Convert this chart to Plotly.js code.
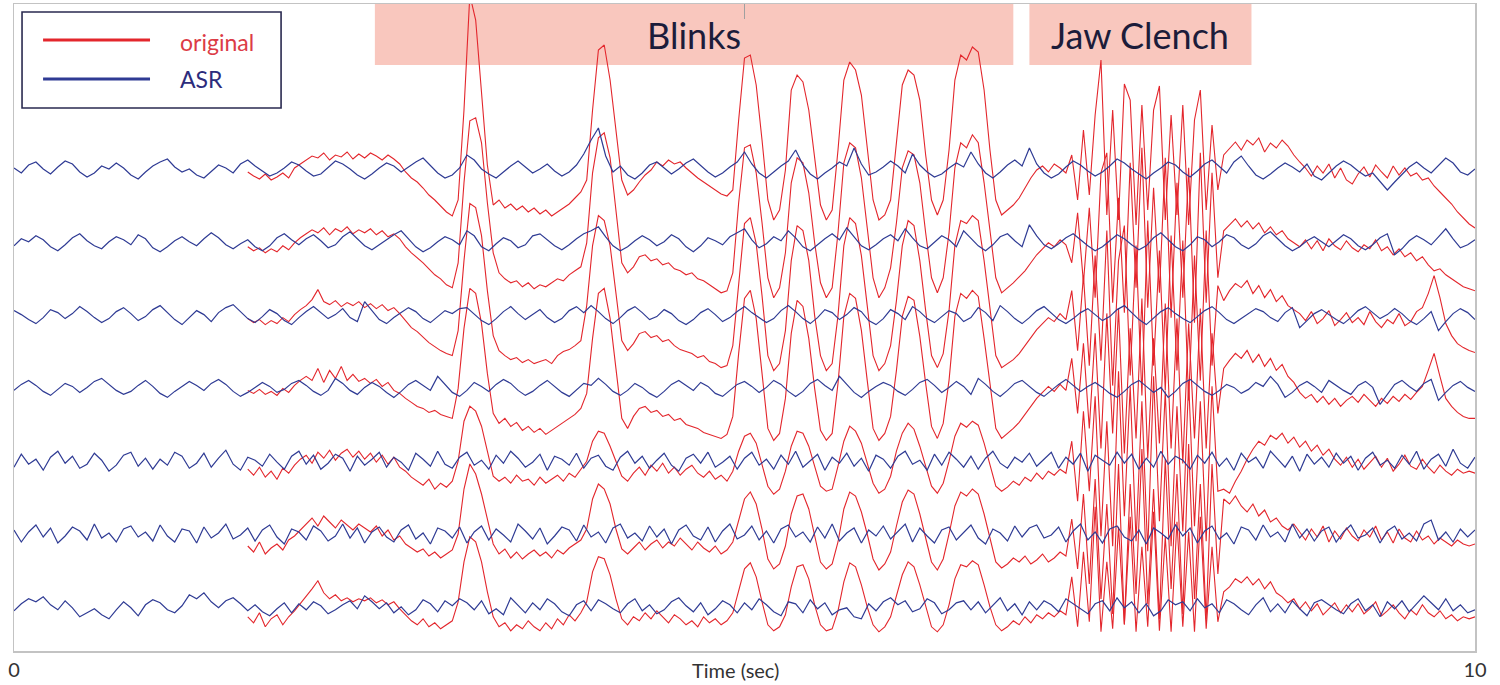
<!DOCTYPE html>
<html><head><meta charset="utf-8">
<script src="https://cdn.plot.ly/plotly-3.0.1.min.js"></script>
<style>html,body{margin:0;padding:0;background:#fff;} #chart{width:1500px;height:685px;}</style>
</head><body><div id="chart"></div>
<script>
// ---------- DATA ----------
// Sampling of the cleaned (ASR) traces and of the original traces (seconds)
const asrStart = 0, asrStep = 0.05;
const origStart = 1.6, origStep = 0.04;

// ASR (cleaned) traces, one per channel, values in µV relative to channel baseline
const asr_ch1 = [2,-3,5,8,1,-4,3,9,6,-2,-7,-3,4,1,7,2,-5,-9,-2,4,
8,11,3,-2,1,-5,-8,-1,5,2,-3,6,10,4,-1,-6,-3,2,8,5,
-1,-6,-4,3,9,6,1,-5,-9,-4,2,7,4,-2,3,8,12,5,-3,-8,
-5,2,15,10,1,-4,-8,-2,4,9,3,-3,1,6,-1,-6,-2,5,16,30,
42,14,-2,4,-5,-9,-3,5,8,2,-4,1,7,11,4,-2,-7,-3,3,8,
18,6,-3,-8,-2,4,9,20,5,-4,-9,-3,2,8,4,22,6,-5,-2,3,
9,4,-3,16,5,-2,-7,-4,2,7,3,18,6,-3,-8,-2,5,10,4,22,
6,-3,-8,-4,3,9,5,-1,-6,-2,4,11,7,1,-4,-9,-3,2,8,5,
-2,-7,-1,6,10,3,-3,8,14,4,-5,-9,-4,2,7,3,-2,6,-6,-10,
-3,4,9,5,-1,-6,-3,-12,-20,-12,-4,3,8,2,-3,5,12,7,-2,-5,
1];
const asr_ch2 = [-3,4,1,7,3,-4,-8,-2,5,9,2,-3,-6,1,6,3,-2,8,4,-5,
-9,-4,2,6,1,-3,4,10,5,-2,-6,-1,3,-4,-8,-3,5,9,3,-2,
4,8,2,-5,-2,6,11,4,-3,-7,-2,3,8,12,4,-4,-9,-5,1,6,
3,-2,12,7,-4,-8,-1,5,2,-5,-2,7,9,3,-3,-7,-2,4,9,12,
16,6,-3,-8,-4,2,7,3,-3,1,8,4,-4,-9,-3,5,2,-2,6,10,
14,3,-5,-1,6,2,12,5,-4,-8,-2,4,9,3,15,6,-3,-7,-2,4,
8,2,14,5,-3,-6,1,7,3,-4,12,4,-3,-8,-2,6,9,2,-4,18,
7,-2,-6,-1,5,9,3,-3,-8,-4,2,8,4,-2,-7,-3,5,10,3,-4,
-8,-2,6,3,-4,1,8,5,-2,-6,-1,7,11,4,-3,-8,-4,2,6,1,
-4,2,8,4,-3,-7,-2,5,9,-12,-6,2,7,3,-2,6,14,4,-5,-2,
3];
const asr_ch3 = [5,1,-4,-8,-2,6,3,-3,2,9,4,-2,-7,-3,4,8,2,-5,-1,6,
10,3,-4,-9,-2,5,1,-6,3,8,11,4,-3,-7,-1,6,2,-5,-9,-2,
4,9,3,-3,1,7,-2,-6,14,5,-4,-8,-2,3,8,4,-3,-7,-1,5,
2,7,8,1,-5,-9,-3,4,9,2,-4,1,6,-2,-7,-3,5,9,3,10,
4,-3,-8,-2,5,9,3,-4,-1,6,2,-5,-9,-4,3,7,1,-6,-2,4,
9,3,-2,-7,-3,5,10,4,-3,-8,-2,6,3,-4,1,8,4,-5,-9,-3,
6,2,-4,9,4,-3,-7,-1,5,2,-6,-2,8,3,-5,10,4,-3,-8,-2,
5,9,2,-4,-8,-3,3,7,1,-5,-1,6,10,3,-4,-9,-2,4,8,2,
-3,-7,-1,5,9,3,-4,-8,-3,2,7,4,-2,-6,3,8,-12,-5,2,6,
1,-4,-8,-2,5,9,3,-3,1,7,2,-5,-9,-3,4,-15,-6,2,7,3,
-4];
const asr_ch4 = [-2,4,8,3,-3,-7,-1,5,2,-4,1,7,10,4,-2,-6,-3,3,8,2,
-5,-9,-3,2,7,3,-2,5,9,4,-3,-8,-4,1,6,2,-4,-1,5,8,
3,-3,-7,-2,10,5,-2,-6,1,6,2,-4,-9,-3,4,8,3,-2,12,4,
-4,-8,-2,6,2,-3,4,9,5,-2,-7,-3,3,8,2,-4,-8,-1,5,3,
10,4,-3,-7,-2,5,1,-5,-9,-3,4,8,3,-2,6,2,-5,-8,-2,4,
7,2,-4,1,8,4,-3,-8,-3,5,9,3,-2,12,4,-4,-9,-3,2,6,
3,-3,-7,-1,6,9,3,-4,1,7,2,-6,10,4,-3,-8,-2,5,8,2,
-4,-8,-2,4,9,3,-3,2,6,1,-5,-9,-3,4,8,2,-4,1,-9,-3,
5,9,3,-3,-7,-2,4,1,-5,-1,6,2,12,4,-9,-4,3,7,2,-4,
8,3,-2,-6,3,7,1,-16,-6,4,8,2,-3,5,9,-12,-4,3,7,1,
-3];
const asr_ch5 = [-6,7,-3,2,-9,4,10,-2,5,-7,-3,8,1,-10,-4,6,9,-5,3,-8,
2,-4,9,5,-7,-2,8,-6,3,11,-3,-9,4,1,-5,7,-1,-8,5,10,
-3,6,-8,-2,7,3,-10,5,-4,2,9,-6,4,-1,-9,8,2,-5,10,-3,
-7,4,9,-4,1,-8,6,-2,10,3,-6,-1,7,-9,5,2,-4,8,-7,3,
6,-5,-9,4,10,-2,5,-7,1,8,-4,-10,3,7,-2,9,-6,-1,5,-8,
3,9,-4,2,-8,6,-3,10,-6,1,7,-9,4,-2,8,-5,3,-10,6,2,
-7,5,10,-3,1,-9,7,-4,9,2,-6,5,-8,3,10,-2,-7,4,-1,8,
-5,2,9,-7,4,-3,8,-10,6,1,-4,9,-2,7,-8,3,-6,10,-3,5,
1,-8,6,-2,9,-5,3,-9,8,-1,4,-7,10,2,-6,5,-10,7,-3,4,
-6,8,-2,5,-9,3,9,-4,1,-7,6,-3,10,-8,2,7,-5,12,-2,-7,
4];
const asr_ch6 = [4,-8,2,9,-3,6,-9,-2,7,3,-6,10,-4,1,-8,5,8,-3,2,-7,
9,-2,-8,5,3,-9,7,-4,1,10,-5,-1,6,-7,4,9,-3,-10,5,2,
-6,8,3,-7,-2,10,-4,6,-9,2,7,-3,-8,4,9,-5,1,-10,6,3,
-4,7,-9,2,8,-6,5,-1,-8,10,3,-5,6,-10,-2,7,4,-7,9,-3,
2,-9,6,10,-4,1,-7,8,-3,5,-10,4,9,-2,-6,7,-8,3,10,-5,
-1,8,-6,3,-9,5,9,-3,2,-8,7,-4,10,-7,1,6,-9,4,-2,8,
-5,3,10,-8,6,-2,-9,4,7,-6,2,9,-4,-10,5,1,-7,8,-3,6,
9,-4,-1,7,-8,3,10,-6,2,-9,5,8,-3,-7,4,-10,6,1,-5,9,
-2,6,-9,3,8,-5,1,-10,7,4,-6,9,-3,2,-8,10,-4,5,-7,3,
7,-8,2,9,-4,-1,6,-9,3,8,-5,1,-7,10,14,-6,2,-8,5,-3,
4];
const asr_ch7 = [-4,3,8,5,10,2,-3,6,-1,-10,-6,-2,-8,-12,-3,5,-1,-9,2,7,
4,-3,-6,1,12,8,14,5,-1,6,9,3,-4,2,-5,-9,-2,4,-6,3,
-3,5,1,-7,-3,2,6,-2,11,5,-2,4,-6,0,-8,-3,7,3,-5,6,
1,8,4,-3,6,-7,-2,-8,9,2,-6,4,-3,8,3,-5,-9,2,6,-4,
7,3,-2,-6,3,8,-4,2,-7,-3,5,9,1,-5,4,-8,-2,6,2,-6,
4,-3,8,2,-5,-9,5,3,-6,7,-2,4,-8,-3,-1,-10,-12,3,-4,5,
9,2,6,-5,-2,8,4,-7,-3,4,6,-3,5,-6,2,9,-4,3,-8,5,
-3,6,2,-5,8,3,-2,-7,3,6,-4,9,-1,5,-6,3,-9,-4,7,2,
5,-4,8,-1,3,-6,7,3,-3,-8,2,9,-5,3,-6,6,-2,-9,4,7,
2,-3,-7,3,8,-4,2,-10,5,-2,6,-5,3,11,4,-3,8,-4,2,-6,
-3];

// Original (uncleaned) traces, one per channel, from 1.6 s on
const original_ch1 = [-2,-6,-9,-4,-10,-7,-3,-8,2,6,
10,14,12,17,10,15,13,18,11,16,
12,17,14,10,15,11,6,-2,-8,-12,
-18,-25,-30,-36,-42,-46,-30,60,175,150,
80,5,-35,-30,-38,-34,-40,-36,-42,-38,
-44,-40,-46,-42,-38,-34,-28,-22,-10,60,
120,125,90,40,-10,-25,-20,-12,-5,0,
8,4,10,6,8,2,-3,-8,-12,-16,
-20,-24,-26,-20,50,112,115,85,30,-30,
-50,-40,0,80,95,88,60,10,-35,-50,
-40,20,90,108,100,75,20,-30,-50,-45,
-30,30,85,100,95,70,15,-30,-45,-30,
20,90,115,110,123,118,80,20,-30,-45,
-40,-35,-28,-18,-8,0,4,-2,6,2,
-3,15,-30,40,-25,55,110,-45,60,-50,
86,70,-55,65,-40,60,84,-50,55,-45,
65,-55,50,80,-40,45,-20,15,22,28,
20,30,25,32,18,27,22,30,24,15,
8,2,-6,4,-3,6,-8,2,-10,-14,
-4,3,-7,5,-2,-8,4,-5,2,-6,
-3,-10,-8,-16,-22,-28,-34,-42,-48,-54,
-58];
const original_ch2 = [-4,-8,-5,-10,-6,-9,-3,-7,0,5,
9,13,10,15,8,14,11,16,9,13,
10,14,8,12,6,9,4,-4,-10,-15,
-20,-26,-32,-36,-42,-45,-20,60,122,125,
100,40,-10,-30,-36,-40,-38,-44,-40,-46,
-42,-44,-40,-36,-38,-32,-28,-24,0,70,
105,110,85,30,-20,-30,-24,-14,-12,-18,
-16,-22,-20,-26,-28,-32,-30,-36,-38,-42,
-46,-50,-48,-30,40,95,98,70,20,-35,
-55,-45,-10,60,85,80,50,0,-40,-55,
-45,10,80,100,95,65,15,-35,-55,-45,
-25,20,75,92,88,60,10,-35,-50,-35,
10,75,100,95,108,100,60,10,-35,-50,
-45,-40,-34,-28,-20,-12,-6,0,-4,3,
-2,-20,30,-40,35,-55,70,90,-60,45,
-70,80,-45,95,-65,55,-50,85,-75,60,
-55,75,-80,90,-60,70,-35,12,18,24,
16,22,14,20,10,16,8,12,4,0,
-4,3,-6,2,-8,4,-3,-7,2,-5,
-9,-2,-6,3,-8,-4,-12,-6,-14,-10,
-18,-14,-22,-28,-26,-32,-36,-40,-44,-46,
-48];
const original_ch3 = [-3,-7,-4,-9,-5,-8,-2,-6,1,6,
10,16,26,14,11,15,9,13,10,14,
8,12,7,11,5,8,2,-5,-12,-16,
-22,-27,-31,-35,-38,-40,-15,55,112,108,
80,25,-20,-35,-40,-44,-42,-47,-44,-48,
-46,-44,-48,-40,-36,-34,-30,-25,10,70,
100,95,70,20,-25,-35,-28,-18,-16,-22,
-20,-26,-24,-30,-34,-36,-38,-42,-40,-46,
-48,-52,-50,-30,35,92,98,72,20,-40,
-55,-48,-15,55,90,85,55,0,-40,-55,
-48,0,70,98,92,60,10,-40,-55,-48,
-30,15,70,95,90,55,5,-40,-52,-38,
5,70,95,92,100,95,55,5,-40,-52,
-48,-44,-38,-30,-22,-14,-8,-2,-6,2,
-4,25,-35,40,-50,60,-45,85,-70,55,
90,-60,70,-80,95,-50,65,-75,80,-55,
75,-85,60,-65,85,-50,30,15,25,32,
28,35,22,30,18,26,14,20,10,6,
2,-5,4,-8,-3,5,-10,-4,3,-7,
-2,-9,4,-6,-12,-4,-8,2,-10,-6,
4,8,22,40,18,-8,-20,-28,-32,-35,
-37];
const original_ch4 = [-2,-5,-1,-6,-3,-7,0,-4,3,8,
12,8,20,6,18,10,22,8,14,7,
10,5,9,2,6,-2,-5,-10,-14,-18,
-20,-24,-22,-26,-28,-30,0,60,100,95,
65,15,-25,-35,-30,-38,-34,-42,-38,-44,
-40,-46,-42,-38,-34,-30,-26,-20,-5,50,
95,100,70,20,-30,-40,-28,-20,-18,-24,
-22,-28,-26,-32,-30,-36,-38,-40,-44,-46,
-48,-50,-46,-28,35,90,98,70,15,-40,
-52,-45,-10,55,88,82,50,0,-42,-52,
-45,5,72,95,90,58,8,-40,-52,-45,
-28,18,72,92,88,52,5,-38,-50,-35,
8,72,95,90,98,92,50,5,-40,-50,
-45,-40,-34,-26,-18,-10,-4,2,-3,4,
-2,30,-25,45,-40,55,-60,75,-45,80,
-65,60,-50,90,-70,50,-55,85,-60,70,
-75,65,-50,80,-60,55,-25,20,28,35,
30,38,26,34,22,30,18,24,12,6,
-4,-10,-6,-14,-8,-16,-10,-18,-12,-8,
-14,-6,-12,-18,-10,-15,-8,-13,-6,-11,
-4,2,18,35,12,-10,-18,-24,-28,-30,
-30];
const original_ch5 = [-8,-14,-6,-16,-10,-18,-7,-12,-4,2,
6,-2,9,3,11,1,8,12,4,10,
2,8,-1,6,-3,4,-6,-10,-16,-20,
-24,-18,-28,-22,-26,-20,0,40,55,50,
35,10,-15,-20,-16,-22,-14,-20,-18,-24,
-16,-22,-18,-14,-20,-12,-16,-8,0,20,
30,28,15,0,-15,-20,-12,-6,-14,-4,
-10,-2,-12,-6,-14,-8,-4,-12,-16,-10,
-18,-14,-20,-10,10,25,28,18,-5,-25,
-33,-28,-10,15,30,28,15,-5,-25,-30,
-28,-5,20,35,30,18,-2,-22,-32,-28,
-15,10,28,38,32,15,-5,-25,-32,-22,
0,25,38,34,40,36,18,-5,-25,-30,
-26,-20,-24,-16,-20,-12,-18,-10,-14,-8,
-12,20,-40,50,-30,65,-75,40,-85,90,
-55,75,-80,60,-90,85,-60,70,-85,55,
-70,80,-65,60,-80,75,-30,-28,-32,-20,
-10,2,12,20,16,26,22,28,18,24,
14,20,10,16,6,12,2,-4,4,-6,
2,-8,-2,5,-6,3,-10,-3,6,-5,
-8,2,-6,-12,-4,-10,-14,-8,-12,-10,
-12];
const original_ch6 = [-12,-18,-8,-20,-14,-10,-16,-6,-2,4,
10,16,8,18,12,6,14,9,4,10,
6,2,8,-2,4,-6,-2,-10,-14,-18,
-15,-22,-18,-24,-20,-16,0,45,70,60,
40,15,-10,-20,-15,-24,-18,-25,-20,-16,
-22,-18,-24,-16,-20,-14,-10,-6,5,35,
50,45,30,5,-15,-20,-14,-8,-16,-10,
-6,-14,-8,-12,-4,-10,-16,-8,-14,-18,
-12,-20,-16,-8,15,35,42,30,5,-25,
-35,-30,-12,20,38,40,25,0,-28,-35,
-30,-8,25,42,38,22,0,-25,-36,-30,
-18,8,32,44,40,20,-5,-28,-36,-25,
0,28,42,38,45,40,20,-5,-28,-34,
-30,-24,-28,-22,-30,-26,-20,-28,-24,-18,
-22,15,-35,40,-50,55,-65,30,-80,70,
-90,50,-60,85,-70,45,-85,75,-55,60,
-80,90,-65,50,-85,70,-40,35,30,38,
28,22,30,18,24,12,16,8,4,10,
2,-6,5,-3,8,-8,3,-5,6,-2,
-7,4,-3,8,-6,2,-9,5,-4,-8,
3,-6,-2,-10,-4,-8,-12,-6,-10,-12,
-10];
const original_ch7 = [-10,-16,-6,-20,-12,-8,-18,-10,-4,3,
10,18,26,14,8,12,6,9,5,8,
6,9,4,7,2,5,-2,-8,-14,-18,
-12,-20,-16,-22,-18,-14,5,45,70,65,
45,15,-10,-20,-16,-24,-18,-22,-14,-20,
-24,-16,-22,-12,-18,-8,-14,-6,5,35,
50,48,32,8,-12,-18,-10,-14,-6,-12,
-4,-10,-16,-8,-12,-18,-14,-20,-10,-16,
-12,-18,-14,-6,15,38,44,30,5,-18,
-24,-20,-8,20,40,42,28,2,-18,-24,
-22,-4,25,44,40,22,0,-18,-25,-20,
-10,10,32,45,40,22,0,-20,-25,-18,
2,28,42,40,46,42,22,0,-18,-24,
-20,-14,-18,-10,-16,-8,-12,-6,-10,-4,
-8,30,-20,55,-15,100,-25,45,-22,80,
-18,90,-25,60,-20,95,-24,70,-25,85,
-20,75,-25,90,-22,60,-15,15,20,28,
24,30,22,28,18,25,14,10,4,8,
-2,5,-4,3,-8,-2,4,-6,2,-5,
3,-7,-2,5,-9,-4,2,-6,-12,-3,
-8,2,-6,-10,-4,-12,-8,-14,-10,-12,
-10];

// Axis ticks and marked events
const xTickVals = [0, 10];
const xTickText = ['0', '10'];
const topTickVals = [5];
const eventLabels = ['Blinks', 'Jaw Clench'];
const eventStart = [2.47, 6.95];
const eventEnd = [6.84, 8.47];
const seriesNames = ['original', 'ASR'];

// ---------- STYLE / LAYOUT ----------
const asrChannels = [asr_ch1, asr_ch2, asr_ch3, asr_ch4, asr_ch5, asr_ch6, asr_ch7];
const origChannels = [original_ch1, original_ch2, original_ch3, original_ch4, original_ch5, original_ch6, original_ch7];
const TOP_BASELINE = 481, CHANNEL_SPACING = 72.8;
const RED = '#e3262c', BLUE = '#2f3b94';

const traces = [];
origChannels.forEach((vals, k) => {
  traces.push({
    type: 'scatter', mode: 'lines', name: seriesNames[0], showlegend: false, hoverinfo: 'skip',
    x: vals.map((_, i) => origStart + i * origStep),
    y: vals.map(v => TOP_BASELINE - k * CHANNEL_SPACING + v),
    line: {color: RED, width: 1.1}
  });
});
asrChannels.forEach((vals, k) => {
  traces.push({
    type: 'scatter', mode: 'lines', name: seriesNames[1], showlegend: false, hoverinfo: 'skip',
    x: vals.map((_, i) => asrStart + i * asrStep),
    y: vals.map(v => TOP_BASELINE - k * CHANNEL_SPACING + v),
    line: {color: BLUE, width: 1.2}
  });
});
// empty trace so that the top (mirror) time axis carrying the 5 s tick is drawn
traces.push({type: 'scatter', mode: 'lines', x: [], y: [], xaxis: 'x2', yaxis: 'y',
  showlegend: false, hoverinfo: 'skip'});

const shapes = [];
const annotations = [];
eventLabels.forEach((lab, i) => {
  shapes.push({type: 'rect', layer: 'below', xref: 'x', yref: 'paper',
    x0: eventStart[i], x1: eventEnd[i], y0: 0.9057, y1: 1,
    fillcolor: '#f9c7be', line: {width: 0}});
  annotations.push({text: lab, xref: 'x', yref: 'paper',
    x: (eventStart[i] + eventEnd[i]) / 2, y: 0.952, xanchor: 'center', yanchor: 'middle',
    showarrow: false, font: {family: 'Lato, sans-serif', size: 36, color: '#1c1c3a'}});
});
// legend box
shapes.push({type: 'rect', xref: 'paper', yref: 'paper', x0: 0.0055, x1: 0.1828, y0: 0.8393, y1: 0.9876,
  fillcolor: 'white', line: {color: '#2a2a50', width: 1.6}});
shapes.push({type: 'line', xref: 'paper', yref: 'paper', x0: 0.0199, x1: 0.0931, y0: 0.9444, y1: 0.9444,
  line: {color: RED, width: 3}});
shapes.push({type: 'line', xref: 'paper', yref: 'paper', x0: 0.0199, x1: 0.0931, y0: 0.8841, y1: 0.8841,
  line: {color: BLUE, width: 3}});
annotations.push({text: seriesNames[0], xref: 'paper', yref: 'paper', x: 0.1123, y: 0.9413,
  xanchor: 'left', yanchor: 'middle', showarrow: false,
  font: {family: 'Lato, sans-serif', size: 23, color: '#dc3c46'}});
annotations.push({text: seriesNames[1], xref: 'paper', yref: 'paper', x: 0.1123, y: 0.8841,
  xanchor: 'left', yanchor: 'middle', showarrow: false,
  font: {family: 'Lato, sans-serif', size: 23, color: '#2c2c7c'}});
annotations.push({text: 'Time (sec)', xref: 'paper', yref: 'paper', x: 0.4935, y: -0.0294,
  xanchor: 'center', yanchor: 'middle', showarrow: false,
  font: {family: 'Lato, sans-serif', size: 20, color: '#333'}});

const layout = {
  width: 1500, height: 685,
  margin: {l: 14, r: 25, t: 4, b: 34},
  paper_bgcolor: 'white', plot_bgcolor: 'white',
  showlegend: false,
  xaxis: {range: [0, 10], showgrid: false, zeroline: false,
    showline: true, mirror: true, linecolor: '#c3c3c3', linewidth: 1.5,
    ticks: '', tickvals: xTickVals, ticktext: xTickText, ticklabelstandoff: 0,
    tickfont: {family: 'Lato, sans-serif', size: 20, color: '#333'}},
  xaxis2: {range: [0, 10], overlaying: 'x', side: 'top', anchor: 'y',
    showgrid: false, zeroline: false, showline: false, showticklabels: false,
    ticks: 'inside', ticklen: 15, tickwidth: 1.5, tickcolor: '#a0a0a0',
    tickmode: 'array', tickvals: topTickVals},
  yaxis: {range: [0, 647], showgrid: false, zeroline: false, showticklabels: false,
    showline: true, mirror: true, linecolor: '#c3c3c3', linewidth: 1.5, ticks: ''},
  shapes: shapes, annotations: annotations
};
Plotly.newPlot('chart', traces, layout, {displayModeBar: false, staticPlot: true});
</script></body></html>
